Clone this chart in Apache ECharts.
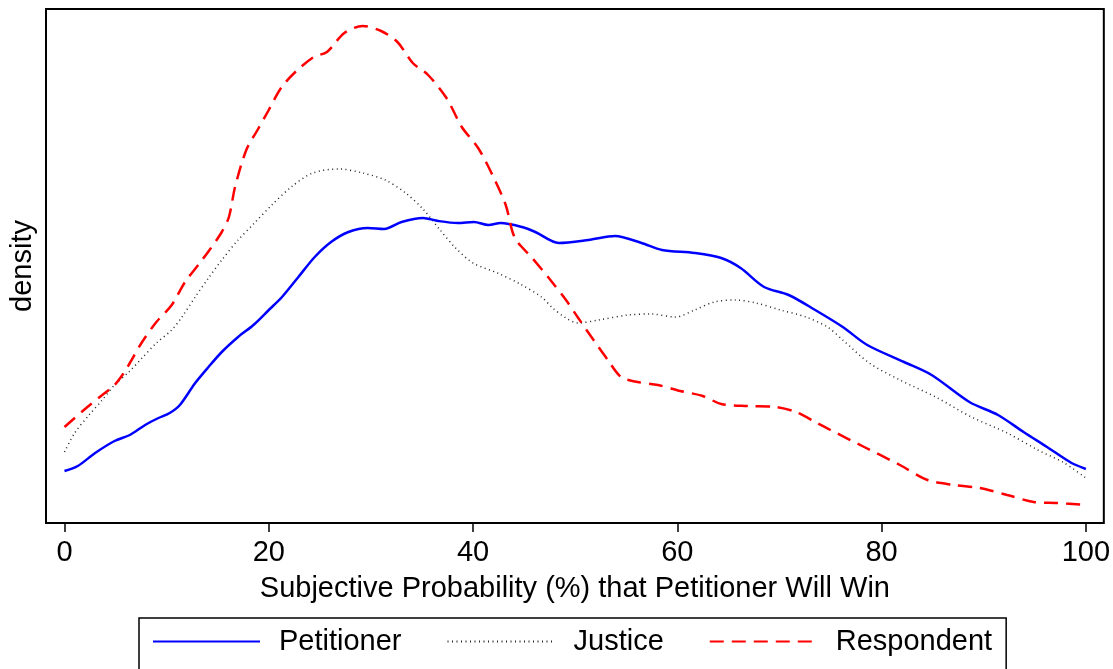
<!DOCTYPE html>
<html>
<head>
<meta charset="utf-8">
<script src="https://cdn.jsdelivr.net/npm/echarts@6/dist/echarts.min.js"></script>
<style>
html,body{margin:0;padding:0;background:#fff;}
#chart{width:1113px;height:669px;}
</style>
</head>
<body>
<div id="chart"></div>
<script>
// Subjective probability (%) values and estimated kernel densities
const petitionerX = [0.0,1.3,3.0,4.9,6.4,7.9,9.2,10.3,11.3,12.8,14.1,15.4,17.0,18.5,20.0,21.3,22.9,24.5,26.1,27.8,29.7,31.3,33.0,35.1,36.6,38.5,40.1,41.5,42.7,44.8,46.1,48.4,51.3,53.9,56.5,58.5,61.7,64.3,66.2,68.5,70.9,73.5,76.2,78.6,82.2,84.9,88.6,91.4,93.9,96.2,98.6,100];
const petitionerY = [0.00260,0.00285,0.00350,0.00410,0.00440,0.00490,0.00525,0.00550,0.00590,0.00700,0.00780,0.00855,0.00930,0.00990,0.01065,0.01130,0.01230,0.01330,0.01405,0.01455,0.01475,0.01470,0.01505,0.01525,0.01510,0.01500,0.01505,0.01490,0.01500,0.01480,0.01455,0.01400,0.01415,0.01435,0.01400,0.01365,0.01350,0.01325,0.01275,0.01180,0.01140,0.01065,0.00980,0.00890,0.00805,0.00740,0.00605,0.00540,0.00455,0.00380,0.00300,0.00270];

const justiceX = [0.0,1.0,2.4,3.7,4.9,6.3,7.6,9.0,10.5,11.5,12.8,14.1,15.4,17.0,18.6,20.3,22.2,24.3,26.9,29.2,31.4,33.4,35.1,36.7,38.2,40.0,42.4,44.6,46.7,47.8,49.1,50.3,52.3,55.2,57.4,59.8,61.7,63.6,65.7,67.7,70.1,72.6,74.7,76.2,78.8,81.8,85.3,88.8,92.3,95.3,97.9,100];
const justiceY = [0.00355,0.00450,0.00540,0.00615,0.00690,0.00755,0.00825,0.00900,0.00965,0.01030,0.01130,0.01225,0.01315,0.01415,0.01500,0.01590,0.01680,0.01750,0.01770,0.01750,0.01715,0.01650,0.01570,0.01470,0.01380,0.01300,0.01250,0.01195,0.01130,0.01075,0.01025,0.01000,0.01015,0.01040,0.01045,0.01030,0.01065,0.01105,0.01115,0.01100,0.01065,0.01030,0.00980,0.00915,0.00800,0.00715,0.00630,0.00530,0.00450,0.00365,0.00300,0.00225];

const respondentX = [0.0,1.9,3.7,4.9,5.8,6.4,7.6,9.0,10.5,11.8,13.1,14.2,15.4,16.1,16.7,17.8,18.9,20.0,21.2,22.6,24.4,25.7,27.4,29.2,31.0,32.6,34.1,35.6,37.4,38.9,40.5,41.9,43.2,44.1,45.8,47.5,49.1,50.3,51.8,53.2,54.5,56.1,58.1,60.3,62.5,64.3,66.9,69.6,71.6,73.7,75.0,78.3,81.8,84.5,87.1,89.6,92.3,94.9,97.1,100];
const respondentY = [0.00480,0.00565,0.00640,0.00690,0.00750,0.00800,0.00905,0.01005,0.01090,0.01205,0.01290,0.01365,0.01455,0.01530,0.01680,0.01865,0.01965,0.02065,0.02175,0.02255,0.02330,0.02355,0.02450,0.02485,0.02460,0.02405,0.02300,0.02240,0.02125,0.01980,0.01875,0.01740,0.01590,0.01425,0.01325,0.01220,0.01115,0.01025,0.00915,0.00815,0.00730,0.00705,0.00690,0.00660,0.00635,0.00595,0.00585,0.00580,0.00555,0.00500,0.00465,0.00380,0.00290,0.00215,0.00190,0.00175,0.00140,0.00105,0.00100,0.00090];

const xTicks = [0, 20, 40, 60, 80, 100];
const seriesNames = ['Petitioner', 'Justice', 'Respondent'];

function pairs(xs, ys) { return xs.map((x, i) => [x, ys[i]]); }

const FONT = 'Liberation Sans, Arial, sans-serif';
const FS = 29;
const chart = echarts.init(document.getElementById('chart'), null, {renderer: 'canvas'});
chart.setOption({
  animation: false,
  backgroundColor: '#fff',
  grid: {left: 44, right: 9, top: 9, bottom: 146, show: true, borderColor: '#000', borderWidth: 2, backgroundColor: 'transparent'},
  xAxis: {
    type: 'value', min: -1.81, max: 101.76,
    axisLine: {show: false},
    splitLine: {show: false},
    axisTick: {show: true, customValues: xTicks, length: 9, lineStyle: {color: '#000', width: 1.5}},
    axisLabel: {customValues: xTicks, margin: 15, fontSize: FS, color: '#000', fontFamily: FONT},
    name: 'Subjective Probability (%) that Petitioner Will Win',
    nameLocation: 'middle', nameGap: 51,
    nameTextStyle: {fontSize: FS, color: '#000', fontFamily: FONT}
  },
  yAxis: {
    type: 'value', min: 0, max: 0.0257,
    axisLine: {show: false}, axisTick: {show: false}, axisLabel: {show: false}, splitLine: {show: false},
    name: 'density', nameLocation: 'middle', nameGap: 9,
    nameTextStyle: {fontSize: FS, color: '#000', fontFamily: FONT}
  },
  legend: {
    data: seriesNames,
    left: 139, top: 618,
    padding: [9, 14, 40, 13],
    borderColor: '#000', borderWidth: 1.5,
    itemWidth: 107, itemHeight: 4, itemGap: 45,
    itemStyle: {opacity: 0},
    textStyle: {fontSize: FS, color: '#000', fontFamily: FONT, padding: [0, 0, 0, 14]}
  },
  series: [
    {name: seriesNames[0], type: 'line', data: pairs(petitionerX, petitionerY), showSymbol: false, symbol: 'none', smooth: 0.3,
     lineStyle: {color: '#0000ff', width: 2.5}, itemStyle: {color: '#0000ff'}, z: 3},
    {name: seriesNames[1], type: 'line', data: pairs(justiceX, justiceY), showSymbol: false, symbol: 'none', smooth: 0.3,
     lineStyle: {color: '#222', width: 1.5, type: [1, 3.5]}, itemStyle: {color: '#222'}, z: 2},
    {name: seriesNames[2], type: 'line', data: pairs(respondentX, respondentY), showSymbol: false, symbol: 'none', smooth: 0.3,
     lineStyle: {color: '#ff0000', width: 2.5, type: [14, 8]}, itemStyle: {color: '#ff0000'}, z: 4}
  ]
});
</script>
</body>
</html>
